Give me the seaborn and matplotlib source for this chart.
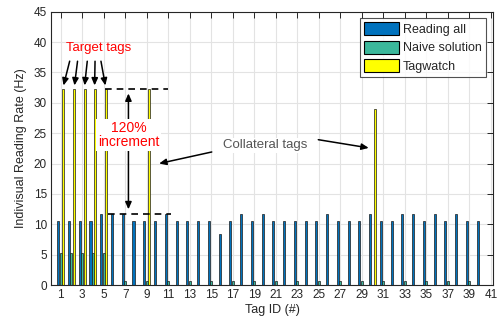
import matplotlib
matplotlib.use("Agg")
import matplotlib.pyplot as plt
import pandas as pd
import seaborn as sns
from matplotlib.patches import Patch

# Per-tag reading rates (Hz) for the three reading strategies
tag_ids = list(range(1, 41))
reading_all = [10.6, 10.6, 10.6, 10.6, 11.7, 11.7, 11.7, 10.6, 10.6, 10.6,
               11.7, 10.6, 10.6, 10.6, 10.6, 8.4, 10.6, 11.7, 10.6, 11.7,
               10.6, 10.6, 10.6, 10.6, 10.6, 11.7, 10.6, 10.6, 10.6, 11.7,
               10.6, 10.6, 11.7, 11.7, 10.6, 11.7, 10.6, 11.7, 10.6, 10.6]
naive_solution = [5.2, 5.2, 5.2, 5.2, 5.2, 0.0, 0.6, 0.0, 0.6, 0.0,
                  0.6, 0.0, 0.6, 0.0, 0.6, 0.0, 0.6, 0.0, 0.6, 0.0,
                  0.6, 0.0, 0.6, 0.0, 0.6, 0.0, 0.6, 0.0, 0.6, 0.0,
                  0.6, 0.0, 0.6, 0.0, 0.6, 0.0, 0.6, 0.0, 0.6, 0.0]
tagwatch = [32.3, 32.3, 32.3, 32.3, 32.3, 0.0, 0.0, 0.0, 32.3, 0.0,
            0.0, 0.0, 0.0, 0.0, 0.0, 0.0, 0.0, 0.0, 0.0, 0.0,
            0.0, 0.0, 0.0, 0.0, 0.0, 0.0, 0.0, 0.0, 0.0, 29.0,
            0.0, 0.0, 0.0, 0.0, 0.0, 0.0, 0.0, 0.0, 0.0, 0.0]

methods = ["Reading all", "Naive solution", "Tagwatch"]
colors = ["#0072BD", "#3BB89B", "#FFFF00"]

df = pd.DataFrame({
    "Tag": tag_ids * 3,
    "Rate": reading_all + naive_solution + tagwatch,
    "Method": [methods[0]] * 40 + [methods[1]] * 40 + [methods[2]] * 40,
})

sns.set_style("white")
plt.rcParams["font.family"] = ["Liberation Sans", "DejaVu Sans"]
plt.rcParams["font.size"] = 8.5

fig = plt.figure(figsize=(5.04, 3.2), dpi=100)
ax = fig.add_axes([51 / 504, 35 / 320, 442 / 504, 273.3 / 320])

sns.barplot(data=df, x="Tag", y="Rate", hue="Method", hue_order=methods,
            palette=colors, native_scale=True, width=0.68, gap=0.15,
            saturation=1, edgecolor="#1a1a1a", linewidth=0.5,
            errorbar=None, legend=False, ax=ax)

ax.set_xlim(0.1, 41.2)
ax.set_ylim(0, 45)
ax.set_xticks(range(1, 42, 2))
ax.set_yticks(range(0, 46, 5))
ax.grid(True, color="#e3e3e3", linewidth=0.8)
ax.set_axisbelow(True)
for s in ax.spines.values():
    s.set_color("#262626")
    s.set_linewidth(0.8)
ax.tick_params(direction="in", length=4, width=0.7, color="#262626",
               top=True, right=True, labelsize=8.5, labelcolor="#262626", pad=3)
ax.set_xlabel("Tag ID (#)", fontsize=9, color="#262626", labelpad=2)
ax.set_ylabel("Indivisual Reading Rate (Hz)", fontsize=9, color="#262626", labelpad=5)

handles = [Patch(facecolor=c, edgecolor="black", linewidth=0.8, label=m)
           for c, m in zip(colors, methods)]
leg = ax.legend(handles=handles, loc="upper right", bbox_to_anchor=(0.985, 0.978),
                fontsize=9, frameon=True, fancybox=False, handlelength=2.8,
                handleheight=1.25, handletextpad=0.3, borderpad=0.35,
                labelspacing=0.38, borderaxespad=0)
leg.get_frame().set_edgecolor("#262626")
leg.get_frame().set_linewidth(0.8)

# Target tags callouts
arrow_kw = dict(arrowstyle="-|>,head_length=0.5,head_width=0.22", color="black", lw=1.1)
ax.text(4.5, 39.0, "Target tags", color="red", fontsize=9.5, ha="center", va="center")
tails = [1.9, 2.6, 3.5, 4.2, 4.7]
heads = [1.2, 2.25, 3.2, 4.15, 5.2]
for tx, hx in zip(tails, heads):
    ax.annotate("", xy=(hx, 32.4), xytext=(tx, 37.3), arrowprops=arrow_kw)

# Increment marker between reading-all and Tagwatch levels
ax.plot([5.1, 11.0], [32.3, 32.3], ls=(0, (4, 3)), color="black", lw=1.2)
ax.plot([5.4, 11.3], [11.7, 11.7], ls=(0, (4, 3)), color="black", lw=1.2)
ax.annotate("", xy=(7.3, 32.0), xytext=(7.3, 12.0),
            arrowprops=dict(arrowstyle="<|-|>,head_length=0.5,head_width=0.22",
                            color="black", lw=1.1))
ax.text(7.3, 24.7, "120%\nincrement", color="red", fontsize=10, ha="center",
        va="center", linespacing=1.0, zorder=5,
        bbox=dict(facecolor="white", edgecolor="none", pad=1.5))

# Collateral tags callouts
ax.text(20.0, 23.0, "Collateral tags", color="#555555", fontsize=9.5,
        ha="center", va="center", zorder=5,
        bbox=dict(facecolor="white", edgecolor="none", pad=1.0))
ax.annotate("", xy=(9.9, 19.9), xytext=(15.3, 22.0), arrowprops=arrow_kw)
ax.annotate("", xy=(29.9, 22.5), xytext=(24.7, 24.0), arrowprops=arrow_kw)

fig.savefig("out.png", dpi=100)
